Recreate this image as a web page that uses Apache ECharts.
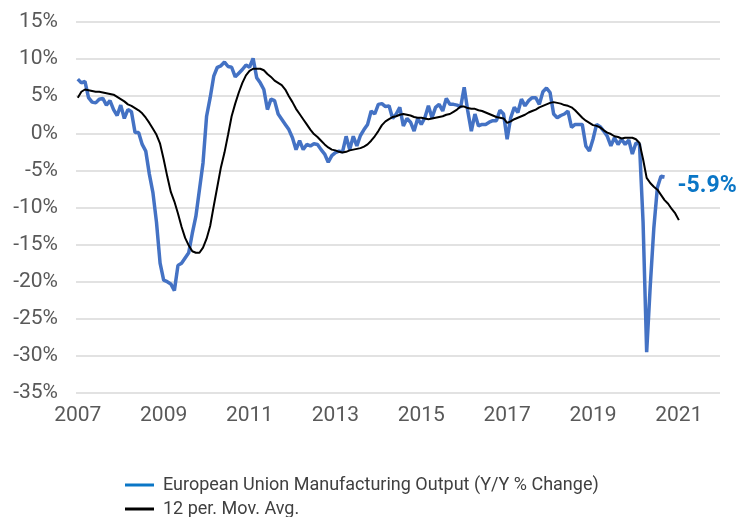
<!DOCTYPE html>
<html>
<head>
<meta charset="utf-8">
<script src="https://cdn.jsdelivr.net/npm/echarts@6/dist/echarts.min.js"></script>
<style>
  html, body { margin: 0; padding: 0; background: #fff; }
  #chart { width: 737px; height: 517px; }
</style>
</head>
<body>
<div id="chart"></div>
<script>
// monthly axis: Jan 2007 .. Dec 2021
const startYear = 2007
const monthCount = 180

// EU manufacturing output, Y/Y % change (Jan 2007 .. Sep 2020)
const outputYoY = [
  7.3, 6.8, 7.0, 4.8, 4.2, 4.1, 4.6, 4.7, 3.8, 4.4, 3.2, 2.4,
  3.8, 2.0, 3.2, 2.9, 0.1, 0.1, -1.5, -2.4, -5.5, -8.0, -12.0, -17.5,
  -19.8, -20.0, -20.3, -21.2, -17.8, -17.5, -16.8, -16.1, -13.5, -11.2, -7.6, -4.0,
  2.3, 4.8, 7.7, 8.9, 9.1, 9.6, 9.0, 8.9, 7.6, 8.1, 8.6, 9.2,
  8.9, 10.1, 7.5, 6.8, 5.9, 3.2, 4.6, 4.4, 2.6, 1.9, 1.2, 0.5,
  -0.6, -2.2, -1.0, -2.2, -1.5, -1.7, -1.4, -1.5, -2.2, -2.8, -3.9, -3.0,
  -2.6, -2.4, -2.5, -0.4, -2.2, -0.4, -1.7, -0.3, 0.5, 1.2, 3.0, 2.6,
  3.9, 4.0, 3.6, 3.7, 2.0, 2.6, 3.5, 1.0, 2.0, 1.5, 0.3, 2.0,
  1.2, 2.1, 3.7, 2.1, 3.5, 3.9, 3.0, 4.7, 3.9, 3.9, 3.8, 3.5,
  6.2, 3.0, 0.3, 2.6, 1.0, 1.2, 1.2, 1.5, 1.7, 1.7, 3.1, 2.6,
  -0.8, 2.1, 3.5, 2.8, 4.6, 3.7, 4.4, 4.8, 4.8, 3.9, 5.6, 6.1,
  5.5, 2.6, 2.1, 2.4, 2.6, 3.0, 0.8, 1.2, 1.2, 1.2, -1.7, -2.4,
  -0.8, 1.2, 0.9, 0.3, -0.4, -1.7, -0.6, -1.5, -0.8, -1.5, -0.9, -2.8,
  -1.3, -1.5, -12.0, -29.5, -20.6, -12.8, -7.3, -5.8, -5.9
]

// 12-period moving average (Jan 2007 .. Jan 2021)
const movAvg = [
  4.8, 5.6, 5.9, 5.8, 5.7, 5.6, 5.6, 5.5, 5.4, 5.3, 5.2, 4.9,
  4.6, 4.3, 3.9, 3.7, 3.4, 3.1, 2.7, 2.1, 1.4, 0.6, -0.2, -1.4,
  -3.5, -5.8, -7.9, -9.2, -10.8, -12.6, -14.1, -15.1, -15.9, -16.1, -16.1, -15.4,
  -14.2, -12.5, -9.8, -7.2, -4.6, -2.6, -0.2, 2.3, 4.0, 5.5, 6.8, 7.8,
  8.4, 8.7, 8.7, 8.7, 8.5, 8.0, 7.6, 7.1, 6.8, 6.5, 5.9, 5.0,
  4.2, 3.3, 2.6, 1.9, 1.2, 0.5, -0.1, -0.5, -1.0, -1.5, -1.9, -2.2,
  -2.3, -2.5, -2.6, -2.5, -2.3, -2.2, -2.1, -2.0, -1.8, -1.5, -1.0, -0.4,
  0.3, 1.1, 1.6, 1.9, 2.2, 2.3, 2.5, 2.6, 2.5, 2.4, 2.2, 2.1,
  2.1, 2.0, 1.9, 2.0, 2.1, 2.2, 2.3, 2.5, 2.6, 2.9, 3.2, 3.6,
  3.6, 3.4, 3.3, 3.3, 3.1, 3.0, 2.8, 2.6, 2.4, 2.2, 2.1, 2.0,
  1.4, 1.6, 1.9, 2.1, 2.3, 2.5, 2.8, 3.0, 3.2, 3.5, 3.7, 3.9,
  4.1, 4.2, 4.1, 4.0, 3.8, 3.7, 3.5, 3.1, 2.6, 2.1, 1.7, 1.4,
  1.1, 1.0, 0.8, 0.4, 0.1, -0.1, -0.4, -0.5, -0.7, -0.6, -0.6, -0.6,
  -0.8, -1.3, -3.5, -6.0, -6.7, -7.2, -7.6, -8.3, -9.0, -9.5, -10.2, -10.8,
  -11.7
]

const yTicks = { min: -35, max: 15, step: 5 }
const seriesNames = ['European Union Manufacturing Output (Y/Y % Change)', '12 per. Mov. Avg.']

const months = []
for (let k = 0; k < monthCount; k++) {
  const y = startYear + Math.floor(k / 12)
  const m = (k % 12) + 1
  months.push(y + '-' + (m < 10 ? '0' + m : m))
}

const font = 'Roboto'
const chart = echarts.init(document.getElementById('chart'))

// one legend per row so they stack like the original
function legendRow(name, color, top) {
  return {
    left: 125,
    top: top,
    padding: 0,
    itemWidth: 29,
    itemHeight: 3,
    icon: 'rect',
    textStyle: {
      color: '#404040',
      fontFamily: font,
      fontSize: 18,
      padding: [0, 0, 0, 4]
    },
    data: [{ name: name, itemStyle: { color: color } }]
  }
}

chart.setOption({
  animation: false,
  backgroundColor: '#fff',
  grid: {
    left: 76,
    right: 17,
    top: 22,
    bottom: 124
  },
  xAxis: {
    type: 'category',
    data: months,
    boundaryGap: true,
    axisLine: { show: false },
    axisTick: { show: false },
    axisLabel: {
      interval: (index) => index % 24 === 0,
      formatter: (v) => v.slice(0, 4),
      color: '#595959',
      fontFamily: font,
      fontSize: 21,
      margin: 12
    }
  },
  yAxis: {
    type: 'value',
    min: yTicks.min,
    max: yTicks.max,
    interval: yTicks.step,
    axisLine: { show: false },
    axisTick: { show: false },
    axisLabel: {
      formatter: '{value}%',
      color: '#595959',
      fontFamily: font,
      fontSize: 21,
      margin: 18
    },
    splitLine: {
      lineStyle: { color: '#D9D9D9', width: 1.5 }
    }
  },
  legend: [
    legendRow(seriesNames[0], '#0A76C6', 476),
    legendRow(seriesNames[1], '#000', 500)
  ],
  series: [
    {
      name: seriesNames[0],
      type: 'line',
      data: outputYoY,
      showSymbol: false,
      symbol: 'none',
      lineStyle: { color: '#4472C4', width: 3.5 },
      itemStyle: { color: '#4472C4' },
      endLabel: {
        show: true,
        formatter: (p) => p.value.toFixed(1) + '%',
        color: '#0A76C6',
        fontFamily: font,
        fontWeight: 'bold',
        fontSize: 23,
        offset: [5, 9]
      },
      z: 2
    },
    {
      name: seriesNames[1],
      type: 'line',
      data: movAvg,
      showSymbol: false,
      symbol: 'none',
      lineStyle: { color: '#000', width: 2 },
      itemStyle: { color: '#000' },
      z: 3
    }
  ]
})
</script>
</body>
</html>
